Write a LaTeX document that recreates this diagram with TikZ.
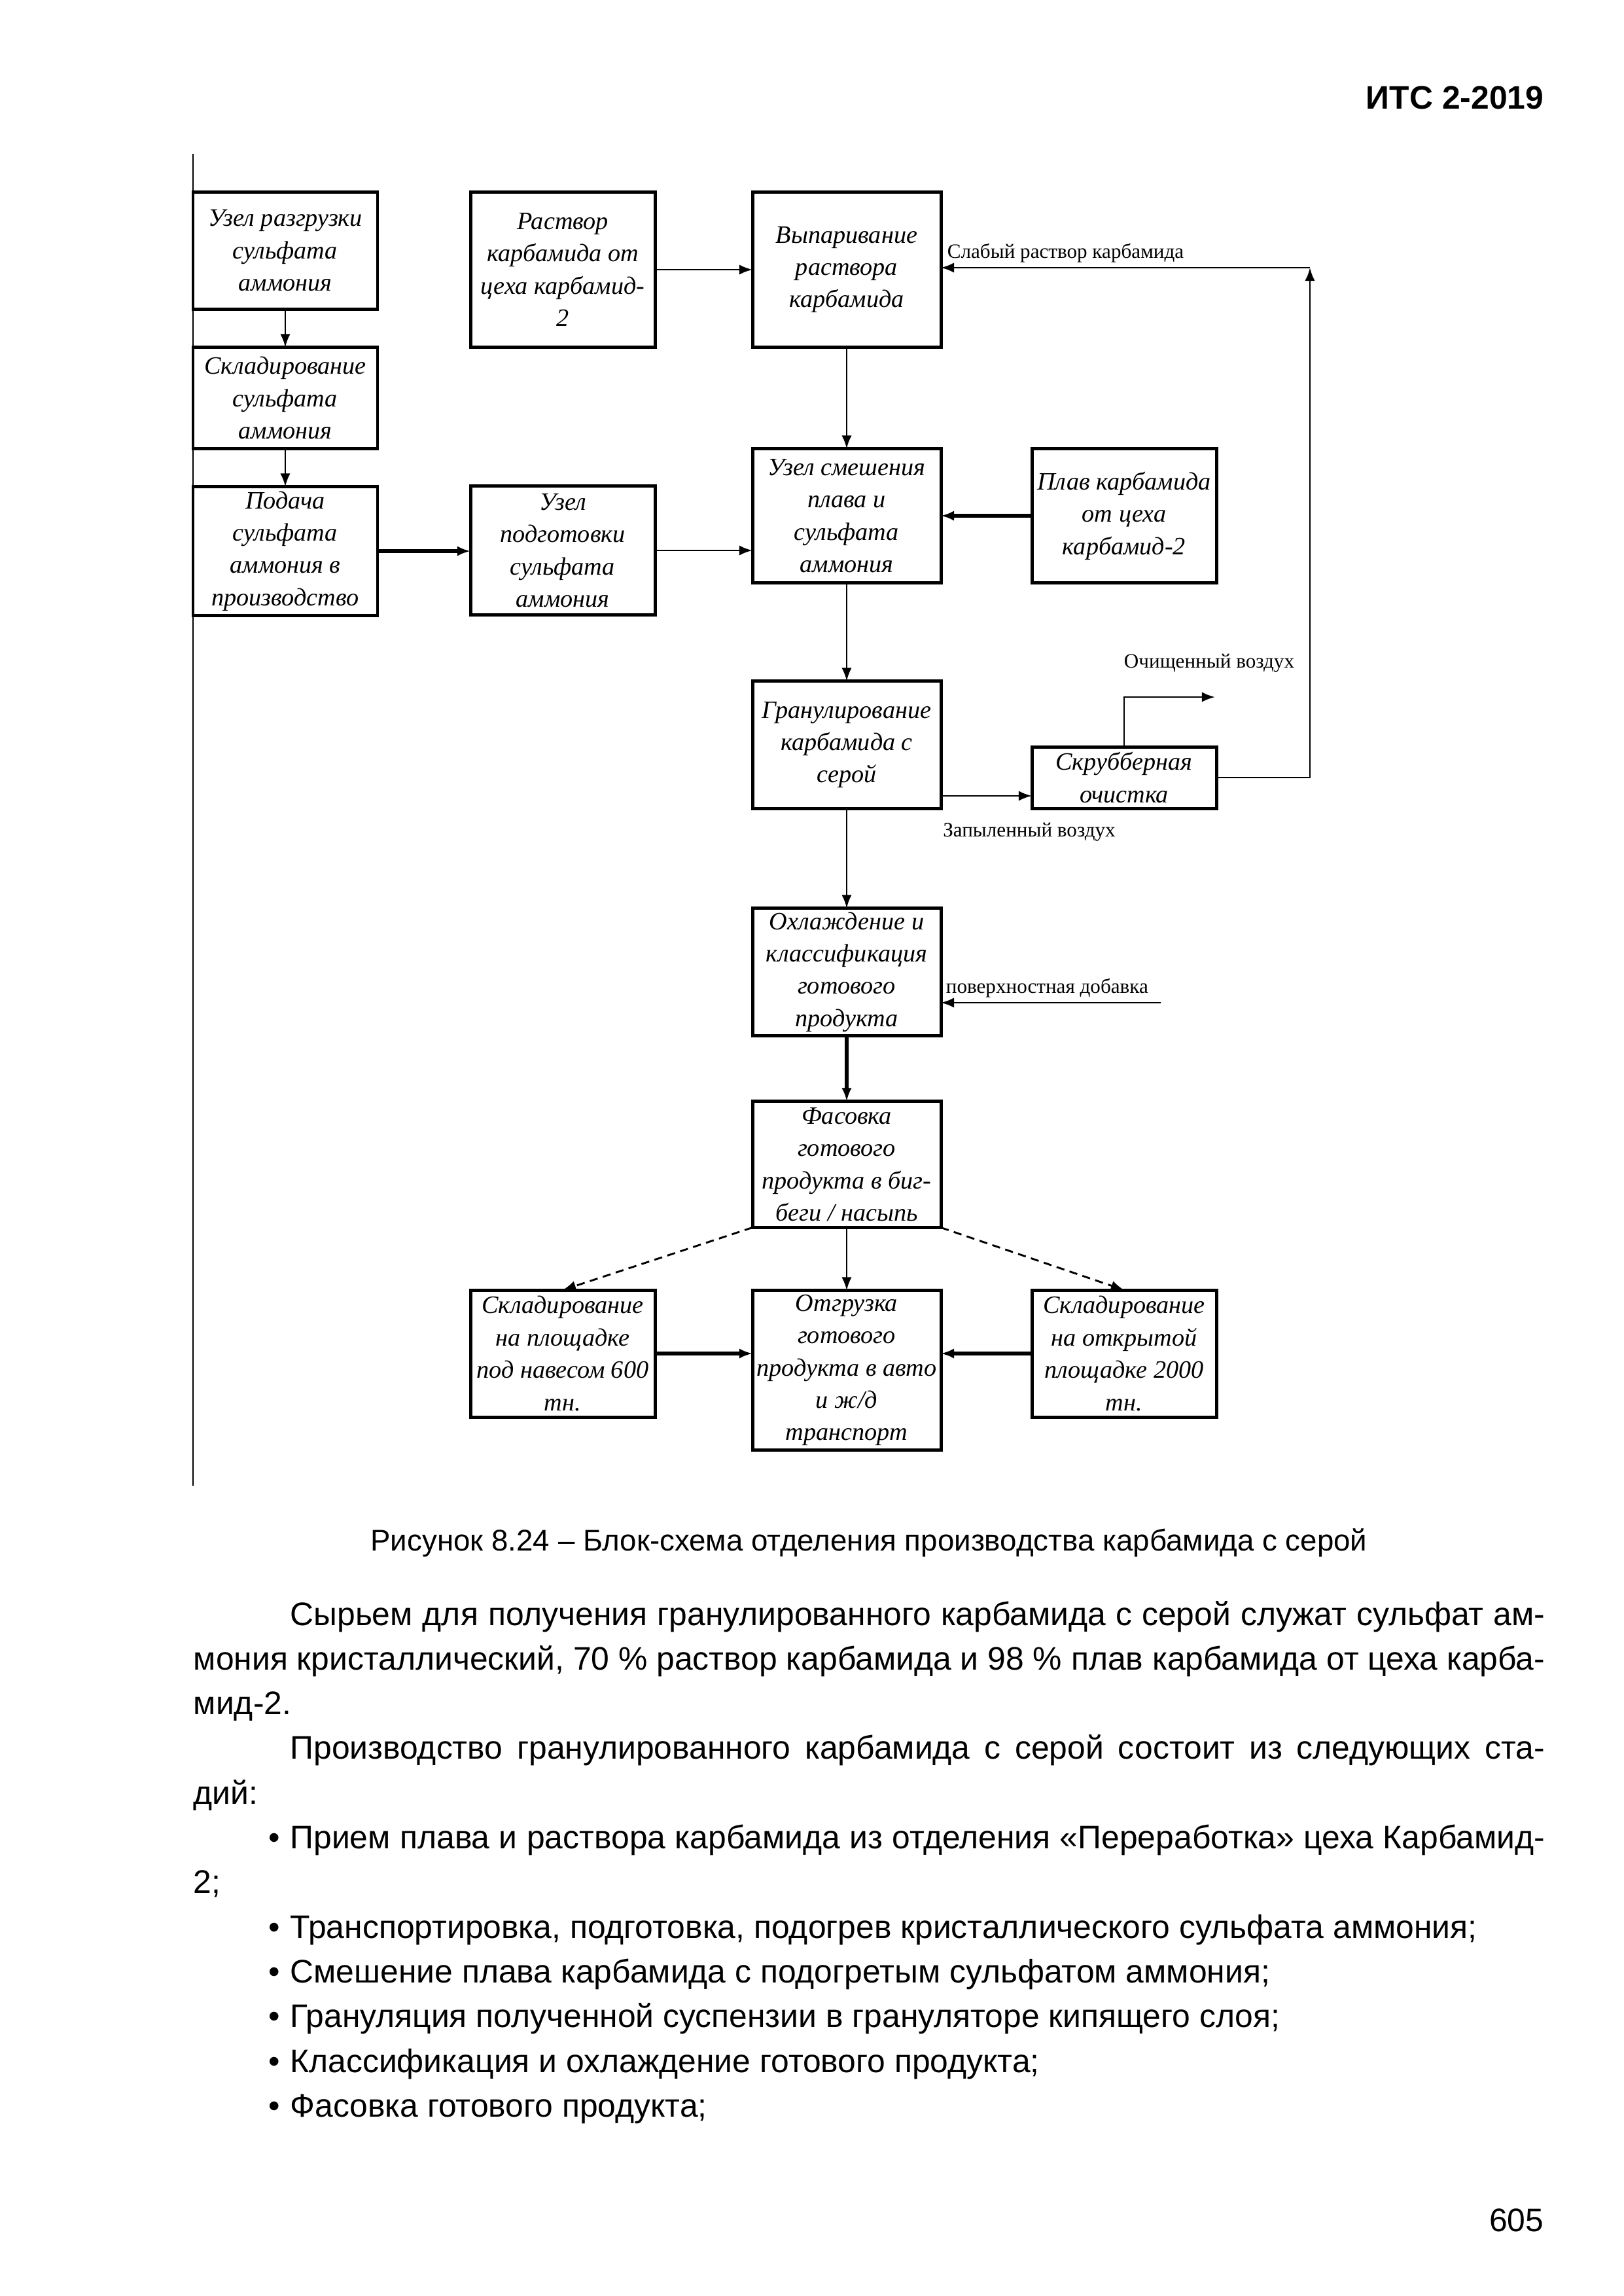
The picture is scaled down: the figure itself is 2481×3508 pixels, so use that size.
\documentclass[tikz,border=0pt]{standalone}
\usepackage{fontspec}
\setmainfont{Liberation Sans}
\newfontfamily\schemefont{Liberation Serif}
\usepackage{tikz}
\usetikzlibrary{arrows.meta,positioning}

% one pixel of the A4 page scan
\newlength\pxu
\setlength\pxu{0.084643mm}
\newcommand\fline[1]{\hbox to 174.8mm{#1}}
\newcommand\lline[1]{\hbox{#1}}

\begin{document}
\begin{tikzpicture}[x=\pxu, y=-\pxu, every node/.style={align=center}]
\tikzset{
  stage/.style={draw, line width=1.2pt, inner sep=1pt, outer sep=0pt, minimum width=282\pxu,
    font=\schemefont\itshape\fontsize{9.2}{11.9}\selectfont},
  wide/.style={minimum width=288\pxu},
  lbl/.style={font=\schemefont\fontsize{7.5}{9}\selectfont, inner sep=0pt},
  arr/.style={line width=0.7pt, -{Latex[length=1.7mm, width=1.3mm]}},
  arrthick/.style={arr, line width=1.5pt},
  page/.style={font=\fontsize{12}{16.45}\selectfont, inner sep=0pt}
}
\fill[white] (0,0) rectangle (2481,3508);
\useasboundingbox (0,0) rectangle (2481,3508);

\node[page, font=\bfseries\fontsize{12}{14}\selectfont, anchor=base east] (header) at (2360,166) {ИТС 2-2019};

% left frame of the figure
\draw[line width=0.5pt] (295,235) -- (295,2270);

% sulphate column
\node[stage, minimum height=179\pxu] (razgr) at (436,383) {Узел разгрузки\\сульфата\\аммония};
\node[stage, minimum height=155\pxu, below=58\pxu of razgr] (sklad) {Складирование\\сульфата\\аммония};
\node[stage, minimum height=197\pxu, below=58\pxu of sklad] (podacha) {Подача\\сульфата\\аммония в\\производство};
\node[stage, minimum height=237\pxu] (rastvor) at (860,412) {Раствор\\карбамида от\\цеха карбамид-\\2};
\node[stage, minimum height=197\pxu] (podgot) at (860,841) {Узел\\подготовки\\сульфата\\аммония};

% main line
\node[stage, wide, minimum height=237\pxu] (vypar) at (1294,412) {Выпаривание\\раствора\\карбамида};
\node[stage, wide, minimum height=205\pxu, below=155\pxu of vypar] (smesh) {Узел смешения\\плава и\\сульфата\\аммония};
\node[stage, minimum height=205\pxu, right=139\pxu of smesh] (plav) {Плав карбамида\\от цеха\\карбамид-2};
\node[stage, wide, minimum height=195\pxu, below=150\pxu of smesh] (granul) {Гранулирование\\карбамида с\\серой};
\node[stage, minimum height=94\pxu] (scrub) at (1718,1188) {Скрубберная\\очистка};
\node[stage, wide, minimum height=195\pxu, below=152\pxu of granul] (ohlazh) {Охлаждение и\\классификация\\готового\\продукта};
\node[stage, wide, minimum height=193\pxu, below=100\pxu of ohlazh] (fasovka) {Фасовка\\готового\\продукта в биг-\\беги / насыпь};
\node[stage, wide, minimum height=244\pxu, below=96\pxu of fasovka] (otgruz) {Отгрузка\\готового\\продукта в авто\\и ж/д\\транспорт};
\node[stage, minimum height=194\pxu] (naves) at (860,2068) {Складирование\\на площадке\\под навесом 600\\тн.};
\node[stage, minimum height=194\pxu] (otkryt) at (1718,2068) {Складирование\\на открытой\\площадке 2000\\тн.};

\draw[arr] (razgr) -- (sklad);
\draw[arr] (sklad) -- (podacha);
\draw[arrthick] (podacha.east) -- (podacha.east -| podgot.west);
\draw[arr] (podgot.east) -- (podgot.east -| smesh.west);
\draw[arr] (rastvor) -- (vypar);
\draw[arr] (vypar) -- (smesh);
\draw[arrthick] (plav) -- (smesh);
\draw[arr] (smesh) -- (granul);

% air and weak solution
\path (granul.east) ++(0,78) coordinate (dust);
\draw[arr] (dust) -- (dust -| scrub.west);
\node[lbl] (dustlbl) at (1573,1271) {Запыленный воздух};
\coordinate (cleanout) at (1857,1065);
\draw[arr] (scrub.north) |- (cleanout);
\node[lbl] (cleanlbl) at (1848,1013) {Очищенный воздух};
\coordinate (fbcorner) at (2002,409);
\draw[arr] (scrub.east) -| (fbcorner);
\draw[arr] (fbcorner) -- (fbcorner -| vypar.east);
\node[lbl, anchor=south west] (weaklbl) at (1447,402) {Слабый раствор карбамида};

\draw[arr] (granul) -- (ohlazh);
\coordinate (additive) at (1774,1532);
\draw[arr] (additive) -- (additive -| ohlazh.east);
\node[lbl, anchor=south west] (addlbl) at (1445,1525) {поверхностная добавка};
\draw[arrthick] (ohlazh) -- (fasovka);

% shipping
\draw[arr] (fasovka) -- (otgruz);
\draw[arr, densely dashed] (fasovka.south west) -- (naves.north);
\draw[arr, densely dashed] (fasovka.south east) -- (otkryt.north);
\draw[arrthick] (naves.east) -- (naves.east -| otgruz.west);
\draw[arrthick] (otkryt.west) -- (otkryt.west -| otgruz.east);

\node[page, font=\fontsize{11}{14}\selectfont, anchor=base] (caption) at (1328,2369) {Рисунок 8.24 – Блок-схема отделения производства карбамида с серой};

\node[page, anchor=base west] (body) at (295,2483) {\vtop{\baselineskip=16.45pt
\fline{\hspace*{12.5mm}Сырьем для получения гранулированного карбамида с серой служат сульфат ам-}
\fline{мония кристаллический, 70 \% раствор карбамида и 98 \% плав карбамида от цеха карба-}
\lline{мид-2.}
\fline{\hspace*{12.5mm}Производство гранулированного карбамида с серой состоит из следующих ста-}
\lline{дий:}
\fline{\hspace*{9.7mm}\makebox[2.8mm][l]{•}Прием плава и раствора карбамида из отделения «Переработка» цеха Карбамид-}
\lline{2;}
\lline{\hspace*{9.7mm}\makebox[2.8mm][l]{•}Транспортировка, подготовка, подогрев кристаллического сульфата аммония;}
\lline{\hspace*{9.7mm}\makebox[2.8mm][l]{•}Смешение плава карбамида с подогретым сульфатом аммония;}
\lline{\hspace*{9.7mm}\makebox[2.8mm][l]{•}Грануляция полученной суспензии в грануляторе кипящего слоя;}
\lline{\hspace*{9.7mm}\makebox[2.8mm][l]{•}Классификация и охлаждение готового продукта;}
\lline{\hspace*{9.7mm}\makebox[2.8mm][l]{•}Фасовка готового продукта;}}};

\node[page, anchor=base east] (pagenum) at (2360,3409) {605};
\end{tikzpicture}
\end{document}
